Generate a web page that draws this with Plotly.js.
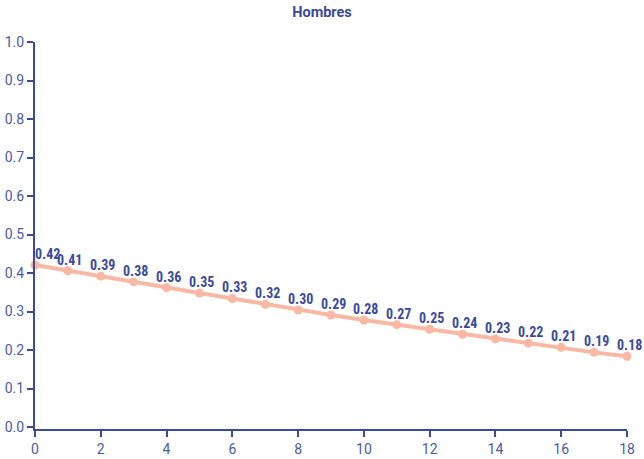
<!DOCTYPE html>
<html>
<head>
<meta charset="utf-8">
<script src="https://cdn.plot.ly/plotly-3.0.1.min.js"></script>
<style>html,body{margin:0;padding:0;background:#fff}#chart{width:644px;height:459px}</style>
</head>
<body>
<div id="chart"></div>
<script>
const years = [0,1,2,3,4,5,6,7,8,9,10,11,12,13,14,15,16,17,18];
const values = [0.421,0.406,0.392,0.377,0.362,0.348,0.334,0.319,0.304,0.291,0.278,0.266,0.254,0.241,0.229,0.218,0.207,0.194,0.184];
const labels = ['0.42','0.41','0.39','0.38','0.36','0.35','0.33','0.32','0.30','0.29','0.28','0.27','0.25','0.24','0.23','0.22','0.21','0.19','0.18'];

const blue = '#3b4a9c';
const trace = {
  x: years, y: values,
  type: 'scatter', mode: 'lines+markers',
  line: {color: '#f9b8a3', width: 4},
  marker: {color: '#f9b8a3', size: 9},
  cliponaxis: false,
  hoverinfo: 'none'
};
const annotations = years.map((yr, i) => ({
  x: yr, y: values[i], xref: 'x', yref: 'y', text: labels[i], showarrow: false,
  xanchor: 'center', yanchor: 'bottom', yshift: 1, xshift: i === 0 ? 12 : 2,
  font: {family: 'Roboto Condensed, Roboto', size: 14, color: blue, weight: 'bold'}
}));
const layout = {
  width: 644, height: 459,
  margin: {l: 35, r: 17, t: 42, b: 30},
  paper_bgcolor: '#fff', plot_bgcolor: '#fff',
  title: {text: '<b>Hombres</b>', x: 0.5, xanchor: 'center', y: 0.975, yanchor: 'middle',
          font: {family: 'Roboto', size: 14.5, color: blue}},
  showlegend: false,
  font: {family: 'Roboto', color: blue},
  annotations: annotations,
  xaxis: {range: [0, 18], tickvals: [0,2,4,6,8,10,12,14,16,18], showgrid: false, zeroline: false,
          showline: true, linecolor: blue, linewidth: 2, ticks: 'outside', ticklen: 6, tickwidth: 2, tickcolor: blue,
          tickfont: {family: 'Roboto', size: 14, color: '#4a5aa8'}},
  yaxis: {range: [-0.005, 1.0], dtick: 0.1, tickformat: '.1f', showgrid: false, zeroline: false,
          showline: true, linecolor: blue, linewidth: 2, ticks: 'outside', ticklen: 6, tickwidth: 2, tickcolor: blue,
          tickfont: {family: 'Roboto', size: 14, color: '#4a5aa8'}}
};
Plotly.newPlot('chart', [trace], layout, {displayModeBar: false, staticPlot: true});
</script>
</body>
</html>
